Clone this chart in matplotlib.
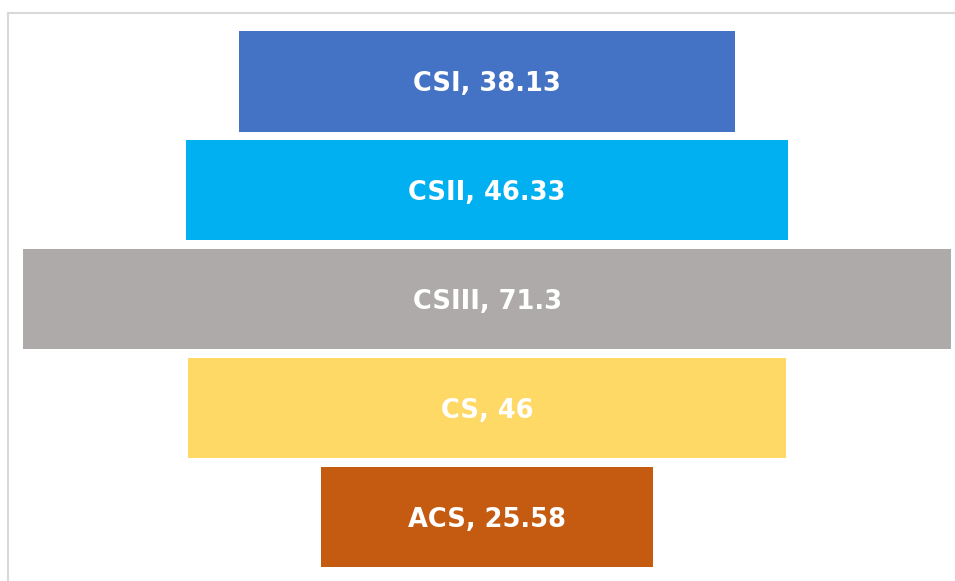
import matplotlib
matplotlib.use('Agg')
import matplotlib.pyplot as plt
from matplotlib.lines import Line2D

categories = ['CSI', 'CSII', 'CSIII', 'CS', 'ACS']
values = [38.13, 46.33, 71.3, 46, 25.58]
labels = ['38.13', '46.33', '71.3', '46', '25.58']
colors = ['#4472C4', '#00B0F0', '#AEAAAA', '#FFD966', '#C55A11']

fig = plt.figure(figsize=(9.55, 5.81), dpi=100)
ax = fig.add_axes([0, 0, 1, 1])

ypos = list(range(len(categories)))
lefts = [-v / 2 for v in values]
ax.barh(ypos, values, left=lefts, height=0.92, color=colors)

for y, cat, lab in zip(ypos, categories, labels):
    ax.text(0, y + 0.025, f'{cat}, {lab}', ha='center', va='center', color='white',
            fontsize=18.5, fontweight='bold', family='DejaVu Sans')

# center of funnel at pixel 487, 13.015 px per unit
ax.set_xlim(-487 / 13.015, (955 - 487) / 13.015)
ax.set_ylim((581 - 81.5) / 108.9, -81.5 / 108.9)
ax.axis('off')

# chart border (light gray, top and left)
fig.add_artist(Line2D([8 / 955, 1.0], [1 - 13 / 581, 1 - 13 / 581], color='#d9d9d9', lw=1.5))
fig.add_artist(Line2D([8 / 955, 8 / 955], [0, 1 - 13 / 581], color='#d9d9d9', lw=1.5))

fig.savefig('out.png', dpi=100)
